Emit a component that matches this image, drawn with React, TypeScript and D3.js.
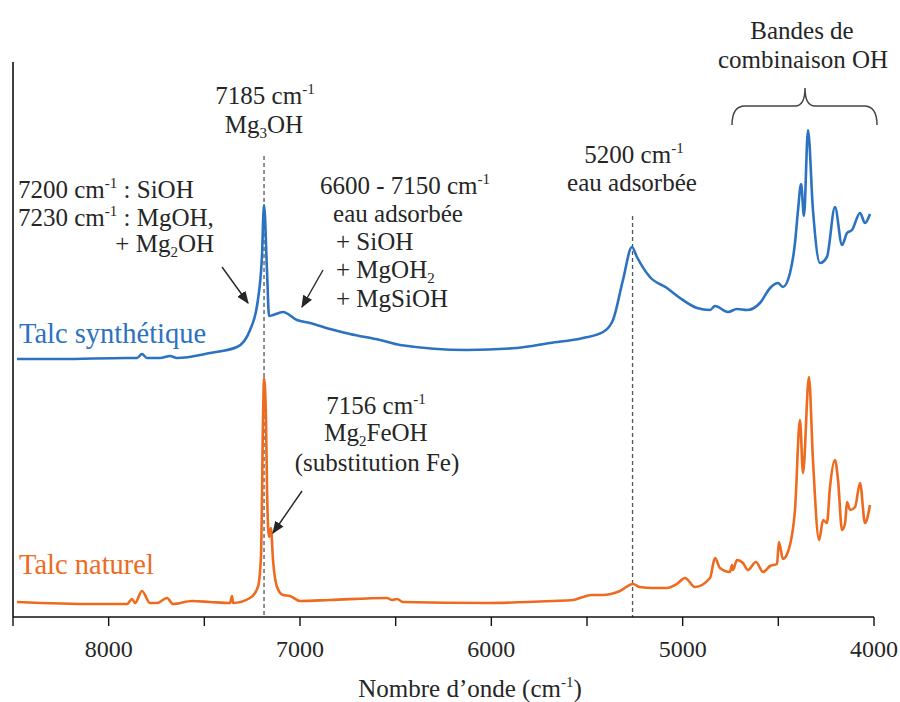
import React from "react";
import * as d3 from "d3";

// ---- Data ----
// Talc synthétique (blue)
const synthWave = [8479, 8254, 7904, 7852, 7826, 7800, 7732, 7679, 7643, 7470, 7329, 7261, 7220, 7199, 7188, 7172, 7162, 7141, 7089, 7016, 6948, 6843, 6739, 6582, 6477, 6127, 5866, 5693, 5521, 5416, 5364, 5312, 5265, 5239, 5171, 5082, 5014, 4925, 4857, 4831, 4763, 4716, 4664, 4596, 4543, 4502, 4476, 4439, 4413, 4397, 4381, 4366, 4345, 4319, 4282, 4246, 4204, 4167, 4141, 4115, 4073, 4047, 4021];
const synthAbs = [2.58, 2.58, 2.59, 2.59, 2.63, 2.59, 2.59, 2.61, 2.59, 2.64, 2.7, 2.87, 3.17, 3.6, 4.12, 3.44, 3.01, 3.02, 3.05, 2.97, 2.94, 2.88, 2.83, 2.77, 2.72, 2.67, 2.69, 2.74, 2.79, 2.85, 2.97, 3.37, 3.7, 3.6, 3.4, 3.29, 3.19, 3.09, 3.07, 3.11, 3.05, 3.08, 3.07, 3.14, 3.29, 3.34, 3.3, 3.44, 3.74, 4.07, 4.33, 4.01, 4.87, 4.07, 3.54, 3.6, 4.1, 3.72, 3.84, 3.87, 4.04, 3.94, 4.03];

// Talc naturel (orange)
const natWave = [8479, 8082, 7904, 7878, 7862, 7826, 7784, 7747, 7695, 7664, 7564, 7470, 7366, 7355, 7350, 7261, 7220, 7204, 7193, 7188, 7178, 7172, 7162, 7152, 7141, 7120, 7089, 7052, 7000, 6843, 6545, 6519, 6493, 6462, 6023, 5678, 5573, 5521, 5474, 5416, 5328, 5260, 5223, 5155, 5082, 5030, 4988, 4936, 4857, 4831, 4805, 4753, 4742, 4737, 4716, 4685, 4659, 4617, 4580, 4543, 4507, 4497, 4476, 4450, 4413, 4387, 4371, 4340, 4319, 4287, 4266, 4246, 4230, 4204, 4188, 4167, 4151, 4141, 4125, 4099, 4073, 4047, 4021];
const natAbs = [0.15, 0.13, 0.13, 0.18, 0.14, 0.26, 0.14, 0.14, 0.19, 0.13, 0.16, 0.15, 0.14, 0.21, 0.14, 0.19, 0.3, 0.6, 2.0, 2.39, 2.0, 1.24, 0.8, 0.89, 0.57, 0.3, 0.22, 0.21, 0.16, 0.17, 0.19, 0.17, 0.18, 0.15, 0.14, 0.16, 0.17, 0.2, 0.22, 0.22, 0.26, 0.33, 0.3, 0.29, 0.29, 0.33, 0.39, 0.3, 0.39, 0.59, 0.49, 0.45, 0.52, 0.47, 0.57, 0.54, 0.47, 0.55, 0.45, 0.51, 0.53, 0.75, 0.58, 0.65, 1.07, 1.97, 1.44, 2.4, 1.57, 0.77, 0.97, 0.94, 1.3, 1.57, 1.37, 0.87, 0.94, 1.15, 1.07, 1.1, 1.34, 0.94, 1.12];

const majorTicks = [8000, 7000, 6000, 5000, 4000];
const minorTicks = [8500, 7500, 6500, 5500, 4500];
const markerLines = [7188, 5262];

const BLUE = "#2b72c0";
const ORANGE = "#ee6a1f";
const INK = "#262626";
const FONT = "Liberation Serif, Times New Roman, DejaVu Serif, serif";

export default function App() {
  const x = d3.scaleLinear().domain([8500, 4000]).range([13, 874]);
  const y = d3.scaleLinear().domain([0, 5.55]).range([617, 62]);
  const line = d3
    .line<[number, number]>()
    .x((d) => x(d[0]))
    .y((d) => y(d[1]))
    .curve(d3.curveMonotoneX);
  const synth = synthWave.map((w, i) => [w, synthAbs[i]] as [number, number]);
  const nat = natWave.map((w, i) => [w, natAbs[i]] as [number, number]);

  // superscript followed by rest text
  const sup = (s: string, rest: string) => (
    <>
      <tspan dy={-10} fontSize={15}>{s}</tspan>
      <tspan dy={10}>{rest}</tspan>
    </>
  );
  const sub = (s: string, rest: string) => (
    <>
      <tspan dy={5} fontSize={15}>{s}</tspan>
      <tspan dy={-5}>{rest}</tspan>
    </>
  );

  return (
    <svg
      width={900}
      height={702}
      style={{ position: "absolute", left: 0, top: 0, background: "#fff", fontFamily: FONT }}
    >
      <defs>
        <marker id="ah" viewBox="0 0 10 10" refX={9} refY={5} markerWidth={9} markerHeight={9} orient="auto">
          <path d="M0,1 L10,5 L0,9 Z" fill={INK} />
        </marker>
      </defs>

      {/* dashed marker lines */}
      <line x1={x(markerLines[0])} x2={x(markerLines[0])} y1={156} y2={617} stroke="#555" strokeWidth={1.3} strokeDasharray="4,3" />
      <line x1={x(markerLines[1])} x2={x(markerLines[1])} y1={216} y2={617} stroke="#555" strokeWidth={1.3} strokeDasharray="4,3" />

      {/* curves */}
      <path d={line(synth) || ""} fill="none" stroke={BLUE} strokeWidth={2.6} strokeLinejoin="round" />
      <path d={line(nat) || ""} fill="none" stroke={ORANGE} strokeWidth={2.6} strokeLinejoin="round" />

      {/* axes */}
      <line x1={13} x2={13} y1={62} y2={617} stroke="#111" strokeWidth={1.6} />
      <line x1={13} x2={874} y1={617} y2={617} stroke="#111" strokeWidth={1.6} />
      {[...majorTicks, ...minorTicks].map((t) => (
        <line key={t} x1={x(t)} x2={x(t)} y1={617} y2={626} stroke="#111" strokeWidth={1.4} />
      ))}
      {majorTicks.map((t) => (
        <text key={t} x={x(t)} y={657} textAnchor="middle" fontSize={24} fill={INK} style={{ fontFamily: FONT }}>
          {t}
        </text>
      ))}
      <text x={470} y={697} textAnchor="middle" fontSize={25} fill={INK} style={{ fontFamily: FONT }}>
        Nombre d’onde (cm{sup("-1", ")")}
      </text>

      {/* annotations */}
      <g fontSize={25} fill={INK} style={{ fontFamily: FONT }}>
        <text x={265} y={104} textAnchor="middle">7185 cm{sup("-1", "")}</text>
        <text x={264} y={133} textAnchor="middle">Mg{sub("3", "OH")}</text>

        <text x={18} y={198}>7200 cm{sup("-1", " : SiOH")}</text>
        <text x={18} y={226}>7230 cm{sup("-1", " : MgOH,")}</text>
        <text x={214} y={252} textAnchor="end">+ Mg{sub("2", "OH")}</text>

        <text x={405} y={194} textAnchor="middle">6600 - 7150 cm{sup("-1", "")}</text>
        <text x={398} y={222} textAnchor="middle">eau adsorbée</text>
        <text x={336} y={250}>+ SiOH</text>
        <text x={336} y={278}>+ MgOH{sub("2", "")}</text>
        <text x={336} y={307}>+ MgSiOH</text>

        <text x={634} y={163} textAnchor="middle">5200 cm{sup("-1", "")}</text>
        <text x={632} y={191} textAnchor="middle">eau adsorbée</text>

        <text x={802} y={39} textAnchor="middle">Bandes de</text>
        <text x={803} y={68} textAnchor="middle">combinaison OH</text>

        <text x={376} y={414} textAnchor="middle">7156 cm{sup("-1", "")}</text>
        <text x={376} y={441} textAnchor="middle">Mg{sub("2", "FeOH")}</text>
        <text x={377} y={471} textAnchor="middle">(substitution Fe)</text>

        <text x={19} y={343} fill={BLUE} fontSize={28.5}>Talc synthétique</text>
        <text x={19} y={574} fill={ORANGE} fontSize={28.5}>Talc naturel</text>
      </g>

      {/* arrows */}
      <line x1={222} x2={248} y1={267} y2={303} stroke={INK} strokeWidth={1.4} markerEnd="url(#ah)" />
      <line x1={323} x2={302} y1={270} y2={307} stroke={INK} strokeWidth={1.4} markerEnd="url(#ah)" />
      <line x1={302} x2={273} y1={491} y2={533} stroke={INK} strokeWidth={1.4} markerEnd="url(#ah)" />

      {/* bracket */}
      <path
        d="M732,125 Q732,106 745,106 L795,106 Q805,106 805,88 Q805,106 815,106 L864,106 Q877,106 877,125"
        fill="none"
        stroke="#444"
        strokeWidth={1.5}
      />
    </svg>
  );
}
